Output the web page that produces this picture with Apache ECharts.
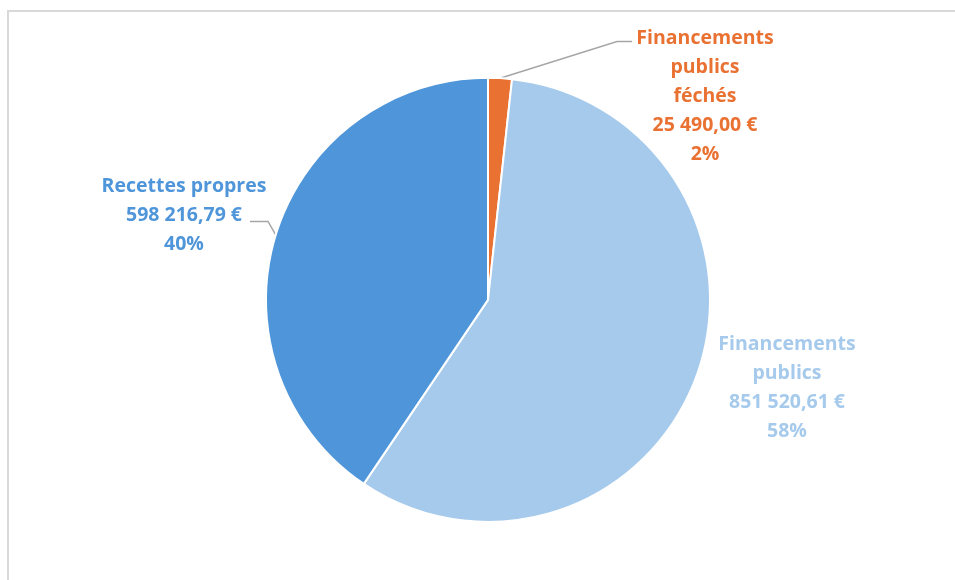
<!DOCTYPE html>
<html>
<head>
<meta charset="utf-8">
<script src="https://cdn.jsdelivr.net/npm/echarts@6/dist/echarts.min.js"></script>
<style>
html,body{margin:0;padding:0;background:#fff;}
#chart{width:955px;height:580px;}
</style>
</head>
<body>
<div id="chart"></div>
<script>
// Data
const categories = ["Financements\npublics\nféchés", "Financements\npublics", "Recettes propres"];
const values = [25490.00, 851520.61, 598216.79];
const colors = ["#E97132", "#A6CAEC", "#4E95D9"];
const showLine = [true, false, true];

function fmtEuro(v) {
  const parts = v.toFixed(2).split('.');
  const intPart = parts[0].replace(/\B(?=(\d{3})+(?!\d))/g, ' ');
  return intPart + ',' + parts[1] + ' €';
}

const chart = echarts.init(document.getElementById('chart'));
const W = 955, H = 580;
// label anchor positions (centre of label block), as fractions of the chart
const labelPos = [
  [705 / W, 96 / H],
  [787 / W, 388 / H],
  [184 / W, 215 / H]
];

const option = {
  animation: false,
  backgroundColor: '#ffffff',
  graphic: [{
    type: 'rect',
    shape: { x: 8, y: 11, width: 1000, height: 700 },
    style: { fill: 'none', stroke: '#d9d9d9', lineWidth: 2 },
    silent: true
  }],
  series: [{
    type: 'pie',
    center: ['51.1%', '51.7%'],
    radius: 222,
    startAngle: 90,
    clockwise: true,
    percentPrecision: 0,
    itemStyle: { borderColor: '#ffffff', borderWidth: 2 },
    label: {
      show: true,
      fontFamily: 'Open Sans',
      fontWeight: 'bold',
      fontSize: 19.5,
      lineHeight: 29,
      align: 'center',
      formatter: function (p) {
        return p.name + '\n' + fmtEuro(p.value) + '\n' + p.percent + '%';
      }
    },
    labelLine: {
      show: true,
      length: 20,
      length2: 15,
      lineStyle: { color: '#a6a6a6', width: 1.5 }
    },
    labelLayout: function (params) {
      const i = params.dataIndex;
      const x = labelPos[i][0] * chart.getWidth();
      const y = labelPos[i][1] * chart.getHeight();
      const res = { x: x, y: y, align: 'center', verticalAlign: 'middle' };
      const lp = params.labelLinePoints;
      if (lp && showLine[i]) {
        const p0 = lp[0];
        const r = params.labelRect;
        const h = r.height;
        if (i === 0) {
          const ly = y - h / 2 + 18;
          res.labelLinePoints = [p0, [x - 88, ly], [x - 73, ly]];
        } else {
          const ly = y - h / 2 + 21 + 29;
          res.labelLinePoints = [p0, [x + 84, ly], [x + 66, ly]];
        }
      }
      return res;
    },
    data: categories.map(function (c, i) {
      return {
        name: c,
        value: values[i],
        itemStyle: { color: colors[i] },
        label: { color: colors[i] },
        labelLine: { show: showLine[i] }
      };
    })
  }]
};
chart.setOption(option);
</script>
</body>
</html>
